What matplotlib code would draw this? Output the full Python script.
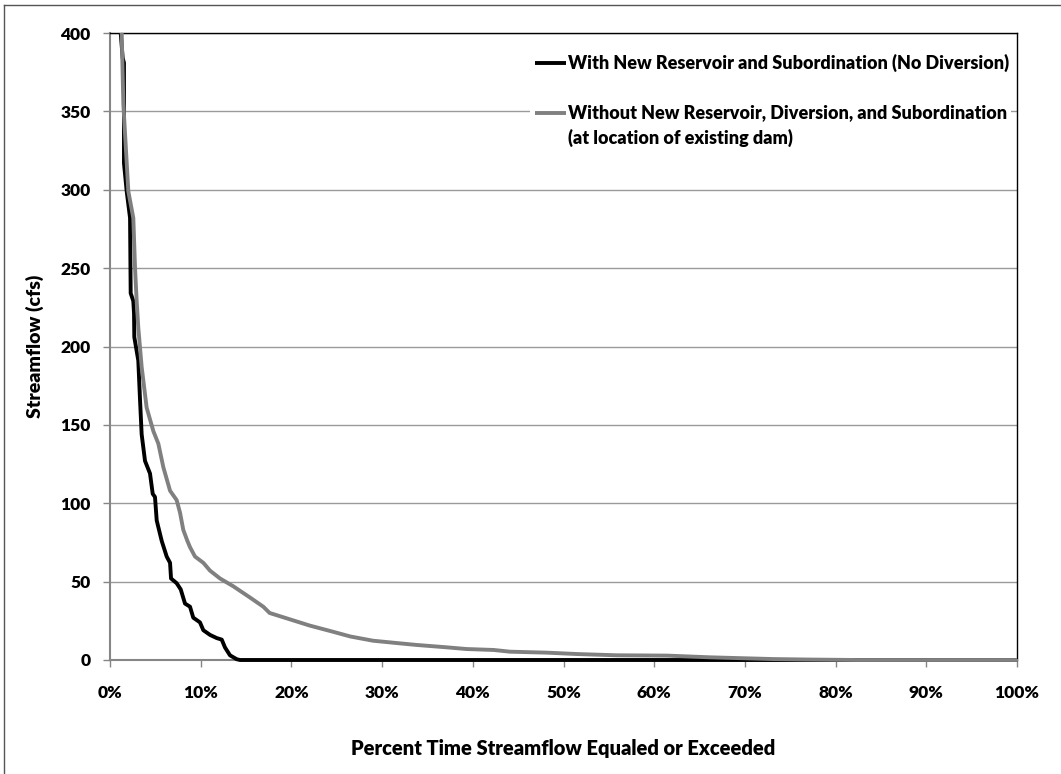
import matplotlib
matplotlib.use("Agg")
import matplotlib.pyplot as plt
from matplotlib.ticker import PercentFormatter, MultipleLocator
from matplotlib.patches import Rectangle
from matplotlib.lines import Line2D

# Flow-duration curves: percent of time exceeded vs. streamflow (cfs)
with_pct = [1.18, 1.40, 1.54, 1.54, 1.84, 2.21, 2.28, 2.57, 2.65, 2.68, 3.12, 3.31,
            3.49, 3.86, 4.41, 4.71, 4.96, 5.15, 5.70, 6.25, 6.62, 6.73, 7.35, 7.80,
            8.27, 8.82, 9.18, 9.92, 10.29, 11.03, 11.76, 12.32, 12.68, 13.23, 13.97,
            14.33, 100.0]
with_cfs = [400, 384, 381, 317, 299, 282, 234, 229, 221, 206, 191, 166,
            144, 127, 119, 106, 104, 89, 76, 66, 62, 52, 49, 45,
            36, 34, 27, 24, 19, 16, 14, 13, 8, 3, 0.5,
            0, 0]

without_pct = [1.29, 1.47, 2.02, 2.57, 2.76, 2.94, 3.12, 3.49, 4.04, 4.78, 5.33, 5.88,
               6.62, 7.35, 7.72, 8.08, 8.53, 8.82, 9.37, 10.29, 11.03, 12.13, 13.6,
               15.4, 16.9, 17.6, 19.8, 22.0, 24.6, 26.5, 29.0, 32.0, 33.8, 37.1, 39.3,
               42.3, 44.1, 48.1, 51.5, 55.9, 61.4, 66.2, 73.1, 76.8, 82.3, 100.0]
without_cfs = [400, 355, 299, 282, 250, 229, 212, 187, 161, 146, 138, 123,
               108, 102, 94, 83, 76, 72, 66, 62, 57, 52, 47,
               40, 34, 30, 26, 22, 18, 15, 12.3, 10.6, 9.6, 8.1, 7.0,
               6.4, 5.3, 4.7, 3.8, 3.0, 2.8, 1.7, 0.6, 0.3, 0, 0]

label_with = "With New Reservoir and Subordination (No Diversion)"
label_without = ["Without New Reservoir, Diversion, and Subordination",
                 "(at location of existing dam)"]
x_title = "Percent Time Streamflow Equaled or Exceeded"
y_title = "Streamflow (cfs)"

WEIGHT = 'heavy'
plt.rcParams['font.family'] = ['Lato', 'DejaVu Sans']
plt.rcParams['font.weight'] = WEIGHT

W, H = 1061, 774
fig = plt.figure(figsize=(W / 100, H / 100), dpi=100)
fig.patch.set_facecolor('white')

# Outer chart-area border (left and top edges visible)
fig.add_artist(Line2D([4 / W, 4 / W], [0, 1 - 5 / H], transform=fig.transFigure,
                      color='#555555', lw=1.0))
fig.add_artist(Line2D([4 / W, 1], [1 - 5 / H, 1 - 5 / H], transform=fig.transFigure,
                      color='#555555', lw=1.0))

ax = fig.add_axes([110 / W, (H - 660) / H, (1017 - 110) / W, (660 - 33) / H])

grid_col = '#9a9a9a'
axis_col = '#868686'

ax.set_xlim(0, 100)
ax.set_ylim(0, 400)
ax.xaxis.set_major_locator(MultipleLocator(10))
ax.yaxis.set_major_locator(MultipleLocator(50))
ax.xaxis.set_major_formatter(PercentFormatter(xmax=100, decimals=0))

ax.yaxis.grid(True, color=grid_col, lw=1.0, zorder=0)
ax.set_axisbelow(True)

for side in ('left', 'bottom'):
    ax.spines[side].set_color(axis_col)
    ax.spines[side].set_linewidth(1.5)
for side in ('top', 'right'):
    ax.spines[side].set_color('black')
    ax.spines[side].set_linewidth(1.0)

ax.tick_params(axis='both', direction='out', length=5, width=1, color=axis_col,
               labelsize=12.5, labelcolor='black')
ax.tick_params(axis='y', pad=9)
ax.tick_params(axis='x', pad=13)
for lbl in ax.get_xticklabels() + ax.get_yticklabels():
    lbl.set_fontweight(WEIGHT)

ax.plot(with_pct, with_cfs, color='black', lw=2.8, solid_joinstyle='round',
        solid_capstyle='butt', clip_on=False, zorder=3)
ax.plot(without_pct, without_cfs, color='#808080', lw=2.8, solid_joinstyle='round',
        solid_capstyle='butt', clip_on=False, zorder=4)

ax.set_xlabel(x_title, fontsize=14.5, fontweight=WEIGHT, labelpad=27)
ax.set_ylabel(y_title, fontsize=14, fontweight=WEIGHT, labelpad=12)


def fx(px):
    return (px - 110) / (1017 - 110)


def fy(py):
    return (660 - py) / (660 - 33)


# Legend block (white backing hides the gridline behind it)
ax.add_patch(Rectangle((fx(530), fy(150)), fx(1011) - fx(530), fy(100) - fy(150),
                       transform=ax.transAxes, facecolor='white', edgecolor='none',
                       zorder=2))
ax.add_line(Line2D([fx(535), fx(566)], [fy(63), fy(63)], transform=ax.transAxes,
                   color='black', lw=2.8, solid_capstyle='butt', zorder=5))
ax.add_line(Line2D([fx(535), fx(566)], [fy(113), fy(113)], transform=ax.transAxes,
                   color='#808080', lw=2.8, solid_capstyle='butt', zorder=5))
for text, py in ((label_with, 63), (label_without[0], 113), (label_without[1], 138)):
    ax.text(fx(568), fy(py), text, transform=ax.transAxes, fontsize=13,
            fontweight=WEIGHT, va='center', ha='left', zorder=5)

fig.savefig('out.png', dpi=100, facecolor='white')
